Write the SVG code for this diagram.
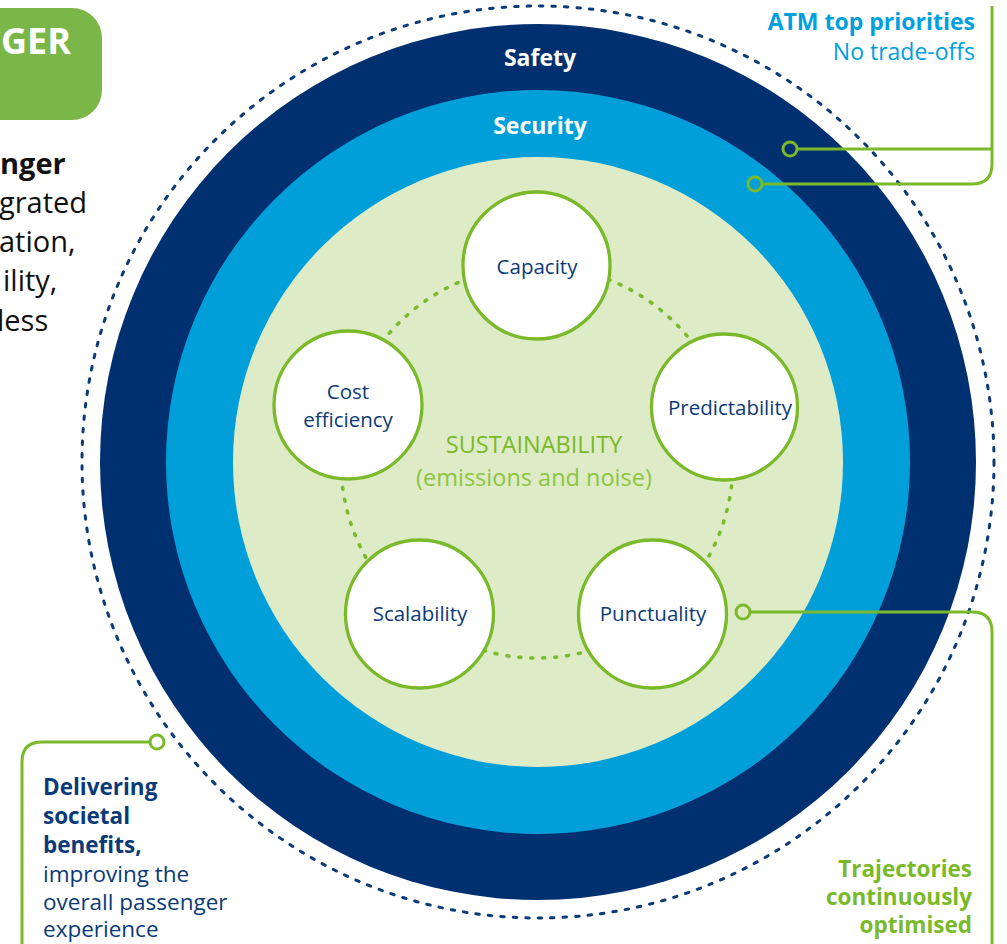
<svg xmlns="http://www.w3.org/2000/svg" width="1007" height="944" viewBox="0 0 1007 944">
<style>
text{font-family:"Open Sans","Liberation Sans",sans-serif}
.ring{fill:none;stroke:#7AB929;stroke-width:3}
.conn{fill:none;stroke:#7AB929;stroke-width:3}
.node{fill:#fff;stroke:#7AB929;stroke-width:3.3}
.lbl{fill:#0B3A78;font-size:20.5px;text-anchor:middle}
.band{fill:#fff;font-size:23px;font-weight:bold;text-anchor:middle}
.left{fill:#111;font-size:29px}
.dl{fill:#0B3A78;font-size:22.5px}
.tr{fill:#7AB929;font-size:22.5px;font-weight:bold;text-anchor:end}
</style>
<rect width="1007" height="944" fill="#fff"/>
<g id="title">
<rect x="-40" y="8" width="142" height="112" rx="30" fill="#7AB648"/>
<text x="71" y="54" fill="#fff" font-size="36" font-weight="bold" text-anchor="end">GER</text>
</g>
<g id="left-text">
<text class="left" x="0" y="174" font-weight="bold" font-size="27">nger</text>
<text class="left" x="-1" y="213">grated</text>
<text class="left" x="-1" y="252">ation,</text>
<text class="left" x="3" y="291">ility,</text>
<text class="left" x="-3" y="331">less</text>
</g>
<g id="rings">
<circle cx="538" cy="462" r="456" fill="none" stroke="#0B3A78" stroke-width="3" stroke-dasharray="3.5 9" stroke-linecap="round"/>
<circle cx="538" cy="462" r="438" fill="#00306F"/>
<circle cx="538" cy="462" r="372" fill="#009FDA"/>
<circle cx="538" cy="462" r="305" fill="#DEEBC7"/>
<text class="band" x="540" y="66">Safety</text>
<text class="band" x="540" y="134" font-size="23.5">Security</text>
<text x="534" y="453" fill="#7AB929" font-size="23.5" text-anchor="middle">SUSTAINABILITY</text>
<text x="534" y="486" fill="#8CC43F" font-size="23.5" text-anchor="middle">(emissions and noise)</text>
</g>
<g id="pentagon-links">
<circle cx="537" cy="462" r="196" fill="none" stroke="#7AB929" stroke-width="3.5" stroke-dasharray="2 10" stroke-linecap="round"/>
</g>
<g id="capacity">
<circle class="node" cx="536.5" cy="265.5" r="73.5"/>
<text class="lbl" x="537" y="274">Capacity</text>
</g>
<g id="predictability">
<circle class="node" cx="724.5" cy="407" r="73"/>
<text class="lbl" x="730" y="415">Predictability</text>
</g>
<g id="cost-efficiency">
<circle class="node" cx="348" cy="405" r="74"/>
<text class="lbl" x="348" y="399">Cost</text>
<text class="lbl" x="348" y="427">efficiency</text>
</g>
<g id="scalability">
<circle class="node" cx="419.5" cy="614" r="74"/>
<text class="lbl" x="420" y="621">Scalability</text>
</g>
<g id="punctuality">
<circle class="node" cx="652.5" cy="614" r="74"/>
<text class="lbl" x="653" y="621">Punctuality</text>
</g>
<g id="connectors">
<path class="conn" d="M992 6 V164 Q992 184 972 184 H762"/>
<path class="conn" d="M797 149 H992"/>
<circle class="ring" cx="755" cy="184" r="7"/>
<circle class="ring" cx="790" cy="149" r="7"/>
<path class="conn" d="M750 612 H972 Q992 612 992 632 V944"/>
<circle class="ring" cx="743" cy="612" r="7"/>
<path class="conn" d="M150 742 H42 Q22 742 22 762 V944"/>
<circle class="ring" cx="157" cy="742" r="7"/>
</g>
<g id="atm-label">
<text x="975" y="30" fill="#00A0DF" font-size="23" font-weight="bold" text-anchor="end">ATM top priorities</text>
<text x="975" y="60" fill="#00A0DF" font-size="23" text-anchor="end">No trade-offs</text>
</g>
<g id="societal-label">
<text class="dl" x="43" y="795" font-weight="bold">Delivering</text>
<text class="dl" x="43" y="824" font-weight="bold">societal</text>
<text class="dl" x="43" y="853" font-weight="bold">benefits,</text>
<text class="dl" x="43" y="882" font-size="22">improving the</text>
<text class="dl" x="43" y="910" font-size="22">overall passenger</text>
<text class="dl" x="43" y="937" font-size="22">experience</text>
</g>
<g id="trajectories-label">
<text class="tr" x="972" y="877">Trajectories</text>
<text class="tr" x="972" y="905">continuously</text>
<text class="tr" x="972" y="933">optimised</text>
</g>
</svg>
